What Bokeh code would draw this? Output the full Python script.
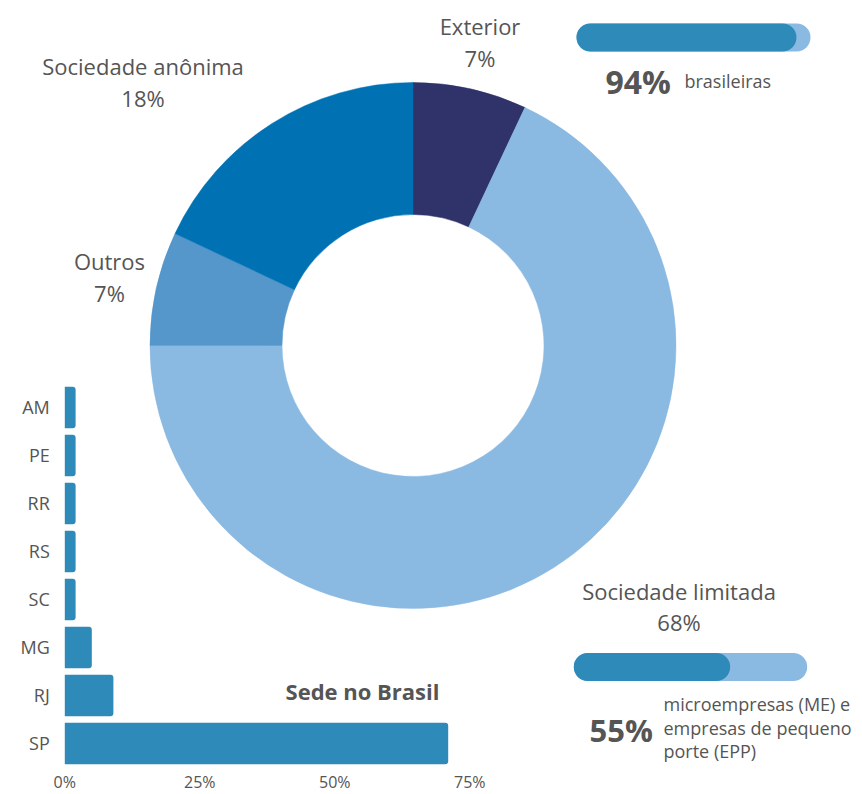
import math
from bokeh.plotting import figure
from bokeh.models import Range1d, ColumnDataSource
from bokeh.core.properties import value
from bokeh.embed import file_html
from bokeh.resources import INLINE

# ---------------- data ----------------
slice_labels = ["Exterior", "Sociedade limitada", "Outros", "Sociedade anônima"]
slice_values = [7, 68, 7, 18]          # percent, clockwise from 12 o'clock
slice_colors = ["#2f3369", "#8ab9e2", "#5596cb", "#0072b4"]

states = ["AM", "PE", "RR", "RS", "SC", "MG", "RJ", "SP"]
state_values = [2, 2, 2, 2, 2, 5, 9, 71]   # percent of companies (Sede no Brasil)
bar_ticks = [0, 25, 50, 75]
bar_tick_labels = ["0%", "25%", "50%", "75%"]

progress_fill = [94, 67]                 # dark part of each progress bar (as drawn)
progress_big = ["94%", "55%"]
progress_text = [["brasileiras"],
                 ["microempresas (ME) e", "empresas de pequeno", "porte (EPP)"]]

# ---------------- layout helpers ----------------
W, H = 862, 794
TXT = "#555555"
FONT = value("Open Sans")


def P(X, Y):
    """reference pixel (from top-left) -> main canvas coordinates (y up)"""
    return X, H - Y


p = figure(width=W, height=H, output_backend="svg", toolbar_location=None,
           x_range=Range1d(0, W), y_range=Range1d(0, H),
           x_axis_location=None, y_axis_location=None,
           min_border=0, outline_line_color=None)
p.grid.visible = False
p.background_fill_color = "white"

# ---------------- donut ----------------
cx, cy = P(412.5, 345)
total = sum(slice_values)
starts, ends = [], []
acc = 0
for v in slice_values:
    starts.append(math.pi / 2 - 2 * math.pi * acc / total)
    acc += v
    ends.append(math.pi / 2 - 2 * math.pi * acc / total)
donut_src = ColumnDataSource(dict(x=[cx] * len(slice_values), y=[cy] * len(slice_values),
                                  start=starts, end=ends, color=slice_colors))
p.annular_wedge(x="x", y="y", inner_radius=131, outer_radius=263,
                start_angle="start", end_angle="end", direction="clock",
                fill_color="color", line_color="color", line_width=0.5, source=donut_src)

# donut labels (name line + percent line), vertical centres in reference pixels
label_pos = {"Exterior": (479.5, 25, 57.5),
             "Sociedade limitada": (678.5, 590.5, 621.5),
             "Outros": (109, 260.5, 292.5),
             "Sociedade anônima": (142.5, 65.5, 97.5)}
lx, ly, lt = [], [], []
for name, v in zip(slice_labels, slice_values):
    X, Y1, Y2 = label_pos[name]
    x1, y1 = P(X, Y1)
    x2, y2 = P(X, Y2)
    lx += [x1, x2]
    ly += [y1, y2]
    lt += [name, f"{v}%"]
p.text(x=lx, y=ly, text=lt, text_font=FONT, text_font_size="22px", text_color=TXT,
       text_align="center", text_baseline="middle")

# ---------------- horizontal bar chart ----------------
px_per_pct = 5.4
x0_px = 64.3
p.extra_x_ranges["bx"] = Range1d(-x0_px / px_per_pct, (W - x0_px) / px_per_pct)
step = 48.0
sp_px = H - 743
p.extra_y_ranges["by"] = Range1d(-sp_px / step, -sp_px / step + H / step)
n = len(states)
yidx = [n - 1 - i for i in range(n)]
bar_src = ColumnDataSource(dict(y=yidx, v=state_values, s=states, zero=[0] * n))
p.hbar(y="y", left="zero", right="v", height=0.865, source=bar_src,
       x_range_name="bx", y_range_name="by",
       fill_color="#2d8ab9", line_color=None, border_radius=(0, 3, 3, 0))
p.text(x="zero", y="y", text="s", source=bar_src, x_range_name="bx", y_range_name="by",
       x_offset=-15, y_offset=-1, text_align="right", text_baseline="middle",
       text_font=FONT, text_font_size="18px", text_color=TXT)
p.text(x=bar_ticks, y=[-0.5] * len(bar_ticks), text=bar_tick_labels,
       x_range_name="bx", y_range_name="by", y_offset=14,
       text_align="center", text_baseline="middle",
       text_font=FONT, text_font_size="16px", text_color=TXT)
sx, sy = P(362, 690.5)
p.text(x=[sx], y=[sy], text=["Sede no Brasil"], text_font=FONT, text_font_style="bold",
       text_font_size="22px", text_color=TXT, text_align="center", text_baseline="middle")

# ---------------- progress bars ----------------
bar_geom = [(576.0, 810.0, 37.0, 28), (573.3, 806.7, 666.5, 28)]
for i, (a, b, yc, hh) in enumerate(bar_geom):
    ppp = (b - a) / 100.0
    name = f"p{i}"
    p.extra_x_ranges[name] = Range1d(-a / ppp, (W - a) / ppp)
    _, ycd = P(0, yc)
    p.hbar(y=[ycd], left=[0], right=[100], height=hh, x_range_name=name,
           fill_color="#8ab9e2", line_color=None, border_radius=int(hh // 2))
    p.hbar(y=[ycd], left=[0], right=[progress_fill[i]], height=hh, x_range_name=name,
           fill_color="#2d8ab9", line_color=None, border_radius=int(hh // 2))

# 94% brasileiras
bx_, by_ = P(605, 81)
p.text(x=[bx_], y=[by_], text=[progress_big[0]], text_font=FONT, text_font_style="bold",
       text_font_size="32px", text_color=TXT, text_align="left", text_baseline="middle")
tx, ty = P(684, 80)
p.text(x=[tx], y=[ty], text=progress_text[0], text_font=FONT, text_font_size="18px",
       text_color=TXT, text_align="left", text_baseline="middle")

# 55% microempresas ...
bx_, by_ = P(589, 729)
p.text(x=[bx_], y=[by_], text=[progress_big[1]], text_font=FONT, text_font_style="bold",
       text_font_size="31px", text_color=TXT, text_align="left", text_baseline="middle")
mx, my = [], []
for k, Y in enumerate([703, 727, 750]):
    xx, yy = P(663, Y)
    mx.append(xx)
    my.append(yy)
p.text(x=mx, y=my, text=progress_text[1], text_font=FONT, text_font_size="18px",
       text_color=TXT, text_align="left", text_baseline="middle")

open("out.html", "w").write(file_html(p, INLINE))
